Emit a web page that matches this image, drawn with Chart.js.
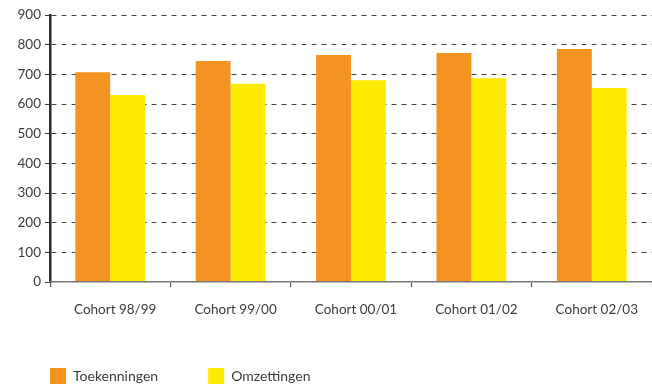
<!DOCTYPE html>
<html>
<head>
<meta charset="utf-8">
<script src="https://cdn.jsdelivr.net/npm/chart.js@4/dist/chart.umd.min.js"></script>
<style>
  html, body { margin: 0; padding: 0; background: #fff; overflow: hidden; }
  #wrap { width: 652px; height: 384px; }
</style>
</head>
<body>
<div id="wrap"><canvas id="bar_chart"></canvas></div>
<script>
// cohorts and their counts
var cohorts = ["Cohort 98/99", "Cohort 99/00", "Cohort 00/01", "Cohort 01/02", "Cohort 02/03"];
var toekenningen = [707, 745, 765, 772, 785];
var omzettingen = [630, 668, 680, 687, 654];
var yTicks = [0, 100, 200, 300, 400, 500, 600, 700, 800, 900];

var textColor = "#3c3c3c";
var fontFamily = "Lato, 'Open Sans', sans-serif";

var ctx = document.getElementById("bar_chart");
window.barChart = new Chart(ctx, {
	type: 'bar',
	data: {
		labels: cohorts,
		datasets: [{
			label: "Toekenningen",
			data: toekenningen,
			backgroundColor: "#f39422",
			borderWidth: 0
		}, {
			label: "Omzettingen",
			data: omzettingen,
			backgroundColor: "#ffeb00",
			borderWidth: 0
		}]
	},
	options: {
		responsive: true,
		maintainAspectRatio: false,
		animation: false,
		categoryPercentage: 0.58,
		barPercentage: 1.0,
		layout: {
			padding: { top: 15, right: 0, bottom: -10, left: 0 }
		},
		plugins: {
			tooltip: { enabled: false },
			legend: {
				position: 'bottom',
				align: 'start',
				labels: {
					boxWidth: 16,
					boxHeight: 16,
					padding: 50,
					color: textColor,
					font: { family: fontFamily, size: 14 }
				}
			}
		},
		scales: {
			x: {
				afterFit: function(axis) { axis.height = 36; },
				grid: {
					offset: true,
					drawOnChartArea: false,
					drawTicks: true,
					tickLength: 5,
					tickColor: "#555",
					tickWidth: 1.2
				},
				border: { color: "#777", width: 1.5, z: 1 },
				ticks: {
					color: textColor,
					padding: 15,
					labelOffset: 5,
					maxRotation: 0,
					font: { family: fontFamily, size: 13.5 }
				}
			},
			y: {
				min: 0,
				max: 900,
				afterFit: function(axis) { axis.width = 50; },
				afterBuildTicks: function(axis) {
					axis.ticks = yTicks.map(function(v) { return { value: v }; });
				},
				grid: {
					color: function(c) { return c.tick && c.tick.value === 0 ? "rgba(0,0,0,0)" : "#444"; },
					lineWidth: 1,
					tickLength: 5,
					tickColor: "#3a3a3a",
					tickWidth: 1
				},
				border: { color: "#2b2b2b", width: 2.5, dash: [5, 5] },
				ticks: {
					color: textColor,
					padding: 4,
					font: { family: fontFamily, size: 13.5 }
				}
			}
		}
	}
});
</script>
</body>
</html>
